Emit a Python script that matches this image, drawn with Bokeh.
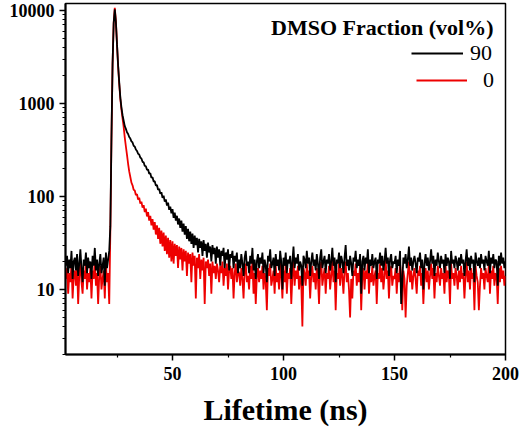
from bokeh.plotting import figure
from bokeh.models import Range1d, FixedTicker, Legend, LegendItem, Label, BasicTickFormatter
from bokeh.embed import file_html
from bokeh.resources import INLINE

# ---- data (photon counts per 0.5 ns channel) ----
TIME_START_NS = 2.0
TIME_STEP_NS = 0.5

# DMSO 90 vol% (black)
counts_90_pre = [
    18, 23, 15, 21, 17, 26, 13, 20, 22, 16, 24, 14, 19, 27, 17, 12, 21, 18, 25, 15,
    22, 17, 20, 13, 23, 18, 28, 16, 21, 14, 19, 24, 15, 18, 22, 11, 25, 17, 21, 26,
]
counts_90_decay = [
    48, 430, 2650, 7300, 10300, 7500, 4350, 2580, 1690, 1160,
    905, 748, 652, 571, 534, 492, 470, 436, 420, 392,
    381, 352, 344, 320, 309, 288, 283, 262, 256, 236,
    233, 213, 212, 194, 195, 176, 178, 159, 161, 145,
    146, 131, 133, 118, 121, 107, 111, 97, 102, 88,
    93, 80, 86, 72, 78, 66, 73, 59, 67, 55,
    62, 50, 58, 46, 55, 42, 51, 39, 48, 35,
    45, 33, 42, 31, 40, 28, 38, 30, 36, 25,
    35, 28, 33, 23, 34, 26, 31, 22, 32, 25,
    29, 20, 30, 24, 28, 19, 29, 22, 27, 18,
    26, 23, 28, 17, 25, 21, 27, 16, 24, 22,
    26, 17, 23, 20, 25, 15,
]
counts_90_tail = [
    21, 17, 24, 19, 14, 22, 26, 18, 20, 15, 23, 19, 28, 16, 21, 13, 20, 24, 17, 22,
    19, 25, 15, 21, 18, 12, 23, 20, 27, 17, 19, 22, 14, 24, 18, 21, 16, 26, 20, 10,
    22, 18, 25, 15, 21, 19, 23, 13, 20, 29, 17, 22, 19, 24, 16, 20, 18, 11, 23, 21,
    17, 26, 19, 22, 14, 20, 25, 18, 21, 16, 24, 19, 13, 22, 27, 17, 20, 23, 15, 21,
    19, 24, 16, 20, 28, 18, 22, 12, 21, 19, 25, 17, 23, 20, 15, 22, 30, 18, 21, 16,
    23, 19, 14, 22, 20, 26, 17, 21, 18, 24, 9, 20, 23, 16, 22, 19, 27, 15, 21, 18,
    24, 17, 20, 22, 13, 21, 19, 25, 18, 23, 16, 20, 28, 19, 22, 14, 21, 24, 17, 20,
    19, 23, 15, 21, 18, 26, 7, 12, 22, 19, 24, 17, 21, 29, 18, 22, 16, 20, 23, 19,
    15, 22, 20, 25, 17, 21, 10, 19, 24, 18, 22, 16, 20, 27, 19, 23, 14, 21, 18, 25,
    20, 17, 23, 19, 21, 15, 24, 18, 22, 20, 13, 26, 19, 21, 17, 23, 20, 16, 22, 18,
    24, 19, 21, 14, 20, 27, 18, 22, 16, 23, 19, 21, 12, 25, 20, 18, 22, 17, 24, 19,
    21, 16, 23, 20, 18, 26, 15, 22, 19, 24, 17, 21, 20, 11, 23, 18, 25, 19, 22, 17,
    20,
]

# DMSO 0 vol% (red)
counts_0_pre = [
    13, 17, 9, 15, 12, 19, 8, 14, 16, 11, 18, 7, 14, 20, 12, 9, 16, 13, 19, 10,
    15, 12, 17, 8, 16, 13, 21, 11, 15, 7, 14, 18, 10, 13, 16, 8, 19, 12, 15, 7,
]
counts_0_decay = [
    42, 410, 2600, 7400, 10700, 7700, 4300, 2500, 1620, 1120,
    860, 690, 560, 430, 345, 280, 225, 186, 162, 141,
    132, 118, 116, 104, 106, 93, 97, 84, 88, 76,
    81, 68, 74, 61, 68, 55, 62, 49, 57, 44,
    53, 39, 49, 35, 46, 31, 43, 29, 41, 26,
    38, 24, 36, 22, 34, 20, 33, 19, 31, 23,
    30, 17, 29, 21, 28, 16, 27, 20, 26, 14,
    25, 19, 24, 12, 25, 18, 23, 8, 22, 17,
    24, 13, 21, 16, 22, 7, 20, 17, 21, 14,
    19, 9, 20, 15, 18, 13, 19, 16, 12, 18,
    15, 20, 11, 17, 14, 19, 10, 16, 18, 13,
    17, 8, 15, 19, 12, 16,
]
counts_0_tail = [
    15, 11, 17, 13, 8, 16, 19, 12, 14, 10, 18, 13, 20, 9, 15, 7, 14, 17, 12, 16,
    13, 18, 10, 15, 12, 6, 17, 14, 19, 11, 13, 16, 9, 18, 12, 15, 10, 20, 14, 8,
    16, 12, 19, 9, 15, 13, 17, 7, 14, 21, 11, 16, 13, 18, 10, 14, 12, 4, 17, 15,
    11, 19, 13, 16, 8, 14, 18, 12, 15, 10, 17, 13, 7, 16, 20, 11, 14, 17, 9, 15,
    13, 18, 10, 14, 21, 12, 16, 6, 15, 13, 19, 11, 17, 14, 9, 16, 20, 12, 15, 10,
    5, 13, 8, 16, 14, 19, 11, 15, 12, 18, 6, 14, 17, 10, 16, 13, 20, 9, 15, 12,
    18, 11, 14, 16, 7, 15, 13, 19, 12, 17, 10, 14, 21, 13, 16, 8, 15, 18, 11, 14,
    13, 17, 9, 15, 12, 19, 14, 6, 16, 13, 5, 11, 15, 20, 12, 16, 10, 14, 17, 13,
    9, 16, 14, 18, 11, 15, 7, 13, 17, 12, 16, 10, 14, 19, 13, 17, 8, 15, 12, 18,
    14, 11, 17, 13, 15, 9, 18, 12, 16, 14, 7, 19, 13, 15, 11, 17, 14, 10, 16, 12,
    18, 13, 15, 8, 14, 20, 12, 16, 10, 17, 13, 15, 6, 18, 14, 12, 6, 11, 17, 13,
    15, 10, 17, 14, 12, 19, 9, 16, 13, 18, 11, 15, 14, 7, 17, 12, 18, 13, 16, 11,
    14,
]

counts_90 = counts_90_pre + counts_90_decay + counts_90_tail
counts_0 = counts_0_pre + counts_0_decay + counts_0_tail

series_labels = ["90", "0"]
legend_title = "DMSO Fraction (vol%)"
x_label = "Lifetime (ns)"
x_major = [50, 100, 150, 200]
x_minor = [25, 75, 125, 175]
y_major = [10, 100, 1000, 10000]
y_minor = [m * d for d in (1, 10, 100, 1000) for m in range(2, 10)]


def times(n):
    return [TIME_START_NS + TIME_STEP_NS * i for i in range(n)]


SERIF = "Liberation Serif"

p = figure(width=527, height=430, y_axis_type="log",
           x_range=Range1d(1.8, 200), y_range=Range1d(2.0, 11900),
           output_backend="svg", toolbar_location=None,
           min_border_left=65, min_border_right=22,
           min_border_top=3, min_border_bottom=76)

r0 = p.line(times(len(counts_0)), counts_0, line_color="#ee0000", line_width=1.8)
r90 = p.line(times(len(counts_90)), counts_90, line_color="black", line_width=1.8)

p.xgrid.visible = False
p.ygrid.visible = False
p.outline_line_color = "black"
p.outline_line_width = 1.5
p.background_fill_color = "white"
p.border_fill_color = "white"

p.xaxis.ticker = FixedTicker(ticks=x_major, minor_ticks=x_minor)
p.yaxis.ticker = FixedTicker(ticks=y_major, minor_ticks=y_minor)
p.yaxis.formatter = BasicTickFormatter(use_scientific=False)
p.yaxis.major_label_overrides = {v: str(v) for v in y_major}

for ax in (p.xaxis[0], p.yaxis[0]):
    ax.axis_line_width = 2
    ax.axis_line_color = "black"
    ax.major_tick_in = 0
    ax.major_tick_out = 6
    ax.minor_tick_in = 0
    ax.minor_tick_out = 3
    ax.major_tick_line_width = 1.5
    ax.minor_tick_line_width = 1.2
    ax.major_tick_line_color = "black"
    ax.minor_tick_line_color = "black"
    ax.major_label_text_font = SERIF
    ax.major_label_text_font_style = "bold"
    ax.major_label_text_font_size = "18px"
    ax.major_label_text_color = "black"

p.yaxis.major_label_standoff = 5
p.xaxis.major_label_standoff = 6
p.xaxis.axis_label = x_label
p.xaxis.axis_label_text_font = SERIF
p.xaxis.axis_label_text_font_style = "bold"
p.xaxis.axis_label_text_font_size = "30px"
p.xaxis.axis_label_text_color = "black"
p.xaxis.axis_label_standoff = 10

# legend: title + two right-aligned entries
title = Label(x=428, y=327, x_units="screen", y_units="screen", text=legend_title,
              text_font=SERIF, text_font_style="bold", text_font_size="22px",
              text_align="right", text_baseline="middle", text_color="black")
p.add_layout(title)

for lab, rend, loc, gw, gap in [(series_labels[0], r90, (346, 288), 52, 7),
                                 (series_labels[1], r0, (351, 261), 51, 16)]:
    leg = Legend(items=[LegendItem(label=lab, renderers=[rend])], location=loc,
                 glyph_width=gw, label_standoff=gap, padding=0, margin=0, spacing=0,
                 border_line_alpha=0, background_fill_alpha=0,
                 label_text_font=SERIF, label_text_font_size="22px",
                 label_text_color="black")
    p.add_layout(leg)

open("out.html", "w").write(file_html(p, INLINE))
